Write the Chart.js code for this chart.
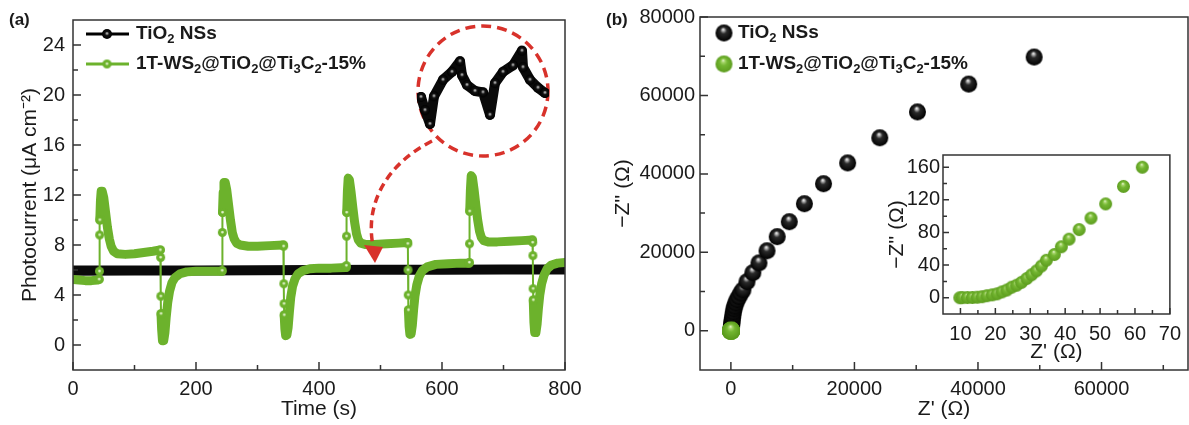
<!DOCTYPE html>
<html>
<head>
<meta charset="utf-8">
<script src="https://cdn.jsdelivr.net/npm/chart.js@4.4.1/dist/chart.umd.min.js"></script>
<style>
  body { margin: 0; background: #fff; }
  #wrap { position: relative; width: 1189px; height: 425px; overflow: hidden; background: #fff; }
  canvas { position: absolute; }
</style>
</head>
<body>
<div id="wrap">
  <canvas id="chartA" width="600" height="425" style="left:0;top:0"></canvas>
  <canvas id="insetA" width="132" height="132" style="left:417px;top:25px"></canvas>
  <canvas id="chartB" width="589" height="425" style="left:600px;top:0"></canvas>
  <canvas id="insetB" width="309" height="225" style="left:880px;top:140px"></canvas>
</div>
<script>
// (a) Photocurrent - [tempo (s), corrente (µA cm-2)]
const tio2Current = [[0, 5.95], [100, 5.96], [200, 5.97], [300, 5.98], [400, 6.0], [500, 6.02], [600, 6.03], [700, 6.04], [800, 6.05]];
const compositeCurrent = [
  [0, 5.25], [10, 5.2], [20, 5.15], [30, 5.15], [40, 5.2], [42.5, 5.25],
  [43, 5.9], [43.3, 8.8], [43.6, 10.0], [44.7, 11.6], [45.8, 12.3], [47.5, 12.3], [50, 11.8], [53, 10.6], [56, 9.4], [59, 8.5], [62, 7.9], [66, 7.5], [72, 7.3], [85, 7.25], [100, 7.3], [115, 7.4], [130, 7.5], [142, 7.6],
  [142.5, 7.0], [142.8, 3.9], [143.1, 2.5], [144.2, 1.2], [145.5, 0.35], [147.5, 0.35], [149.5, 1.0], [151.5, 2.2], [154, 3.4], [157, 4.3], [161, 5.0], [166, 5.4], [174, 5.7], [185, 5.85], [200, 5.9], [220, 5.9], [242, 5.9],
  [242.5, 5.95], [242.8, 9.0], [243.1, 10.6], [244.2, 12.2], [245.5, 13.0], [247.5, 13.0], [250, 12.4], [253, 11.2], [256, 10.0], [259, 9.0], [262, 8.5], [266, 8.15], [272, 8.0], [285, 7.9], [300, 7.9], [320, 7.95], [342, 8.0],
  [342.5, 7.9], [342.8, 4.9], [343.1, 3.3], [343.4, 2.4], [344.5, 1.3], [345.8, 0.75], [347.8, 0.8], [349.8, 1.4], [351.8, 2.6], [354, 3.8], [357, 4.7], [361, 5.3], [366, 5.7], [374, 5.95], [385, 6.1], [400, 6.15], [420, 6.15], [444, 6.2],
  [444.5, 6.35], [444.8, 8.7], [445.1, 10.6], [446.2, 12.3], [447.5, 13.35], [449.5, 13.2], [452, 12.3], [455, 11.0], [458, 9.8], [461, 8.9], [464, 8.4], [468, 8.15], [475, 8.05], [490, 8.05], [510, 8.1], [530, 8.15], [544, 8.2],
  [544.5, 8.1], [544.8, 6.0], [545.1, 4.0], [545.4, 2.8], [546.5, 1.5], [547.8, 0.85], [549.8, 0.9], [551.8, 1.6], [553.8, 2.8], [556, 3.9], [559, 4.8], [563, 5.5], [568, 5.95], [576, 6.25], [590, 6.45], [610, 6.5], [630, 6.55], [644, 6.55],
  [644.5, 6.6], [644.8, 8.1], [645.1, 10.7], [646.2, 12.4], [647.5, 13.55], [649.5, 13.4], [652, 12.5], [655, 11.2], [658, 10.0], [661, 9.1], [664, 8.6], [668, 8.35], [675, 8.25], [690, 8.25], [710, 8.3], [730, 8.35], [747, 8.4],
  [747.5, 8.2], [747.8, 7.15], [748.1, 4.5], [748.4, 3.6], [749.5, 1.8], [750.7, 1.0], [752.7, 1.0], [754.7, 1.7], [756.7, 2.9], [759, 4.0], [762, 4.9], [766, 5.6], [771, 6.1], [778, 6.4], [788, 6.55], [800, 6.6]
];
// zoom do TiO2 (círculo vermelho)
const tio2Zoom = [
  [624, 5.991], [628, 5.971], [633, 5.950], [637, 5.992], [646, 6.017], [655, 6.029], [663, 6.045], [665, 6.024], [670, 6.009],
  [678, 6.000], [686, 5.998], [693, 5.964], [698, 6.012], [706, 6.029], [716, 6.039], [725, 6.061], [726, 6.036], [733, 6.017], [741, 6.005], [748, 5.997]
];
const timeTicks = [0, 200, 400, 600, 800];
const currentTicks = [0, 4, 8, 12, 16, 20, 24];

// (b) Nyquist - [Z' (Ω), -Z'' (Ω)]
const tio2Nyquist = [
  [20, 200], [40, 400], [60, 800], [90, 1200], [120, 1600], [160, 2100], [200, 2600], [260, 3300], [330, 4000], [400, 4800], [500, 5600],
  [620, 6300], [800, 7100], [1000, 7900], [1300, 8700], [1600, 9600], [1950, 10400], [2600, 12500], [3550, 14800], [4550, 17300], [5850, 20400],
  [7500, 24000], [9450, 27800], [11900, 32400], [15000, 37500], [18900, 42800], [24100, 49200], [30200, 55800], [38500, 62900], [49100, 69800]
];
const compositeNyquist = [
  [9.8, 0], [10.6, 0.1], [12.0, 0.2], [13.4, 0.3], [14.8, 0.6], [16.2, 1.2], [17.6, 2.4], [19.1, 3.5], [20.5, 4.7], [21.9, 7.1], [23.3, 9.4],
  [24.7, 12.9], [26.1, 15.3], [27.5, 18.8], [29.0, 23.5], [30.4, 28.2], [31.8, 32.9], [33.2, 38.8], [34.6, 45.9], [36.9, 52.9], [38.9, 62.4],
  [41.1, 71.8], [44.0, 83.5], [47.4, 97.6], [51.6, 115], [56.7, 136.5], [62.1, 160]
];
const zReTicks = [0, 20000, 40000, 60000];
const zImTicks = [0, 20000, 40000, 60000, 80000];
const insetReTicks = [10, 20, 30, 40, 50, 60, 70];
const insetImTicks = [0, 40, 80, 120, 160];

const tio2Label = [['TiO', 'n'], ['2', 'sub'], [' NSs', 'n']];
const compositeLabel = [['1T-WS', 'n'], ['2', 'sub'], ['@TiO', 'n'], ['2', 'sub'], ['@Ti', 'n'], ['3', 'sub'], ['C', 'n'], ['2', 'sub'], ['-15%', 'n']];

const FONT = '"Liberation Sans", Arial, Helvetica, sans-serif';
const INK = '#1a1a1a';
const GREEN = '#6cb22c';
const RED = '#d8322b';

const toXY = arr => arr.map(([x, y]) => ({ x, y }));
const fixTicks = vals => axis => { axis.ticks = vals.map(v => ({ value: v })); };

// bolinhas com brilho (esferas)
function makeBall(r, stops, hx, hy) {
  const c = document.createElement('canvas');
  const s = Math.ceil(r * 2) + 2;
  c.width = c.height = s;
  const g = c.getContext('2d');
  const cx = s / 2, cy = s / 2;
  const grad = g.createRadialGradient(cx + hx * r, cy + hy * r, 0, cx, cy, r);
  stops.forEach(([o, col]) => grad.addColorStop(o, col));
  g.fillStyle = grad;
  g.beginPath();
  g.arc(cx, cy, r, 0, Math.PI * 2);
  g.fill();
  return c;
}
const blackBall = makeBall(8.5, [[0, '#ffffff'], [0.14, '#b8b8b8'], [0.38, '#2a2a2a'], [1, '#000']], -0.1, -0.45);
const greenBall = makeBall(8.5, [[0, '#f4fbe8'], [0.18, '#a8d66c'], [0.45, '#74b732'], [1, '#5c9c1e']], -0.1, -0.45);
const greenBallSmall = makeBall(6.5, [[0, '#f4fbe8'], [0.18, '#a8d66c'], [0.45, '#74b732'], [1, '#5c9c1e']], -0.1, -0.45);
const greenDot = makeBall(4.5, [[0, '#f4fbee'], [0.22, '#c6e4a4'], [0.4, GREEN], [1, GREEN]], 0, -0.1);
const blackDot = makeBall(5, [[0, '#cfcfcf'], [0.2, '#777'], [0.42, '#111'], [1, '#000']], 0, -0.15);

function drawRich(ctx, x, y, parts, size) {
  ctx.textBaseline = 'middle';
  ctx.textAlign = 'left';
  parts.forEach(([t, k]) => {
    const fs = k === 'n' ? size : Math.round(size * 0.68);
    ctx.font = `bold ${fs}px ${FONT}`;
    ctx.fillText(t, x, y + (k === 'sub' ? size * 0.28 : 0));
    x += ctx.measureText(t).width;
  });
}

// moldura + ticks para dentro
const frameTicks = {
  id: 'frameTicks',
  afterDraw(chart, args, o) {
    const { ctx, chartArea: a, scales: { x, y } } = chart;
    ctx.save();
    ctx.strokeStyle = '#333';
    ctx.lineWidth = 1.5;
    ctx.strokeRect(a.left, a.top, a.right - a.left, a.bottom - a.top);
    ctx.beginPath();
    x.ticks.forEach(t => { const p = x.getPixelForValue(t.value); ctx.moveTo(p, a.bottom); ctx.lineTo(p, a.bottom - o.major); });
    o.minorX.forEach(v => { const p = x.getPixelForValue(v); ctx.moveTo(p, a.bottom); ctx.lineTo(p, a.bottom - o.minor); });
    y.ticks.forEach(t => { const p = y.getPixelForValue(t.value); ctx.moveTo(a.left, p); ctx.lineTo(a.left + o.major, p); });
    o.minorY.forEach(v => { const p = y.getPixelForValue(v); ctx.moveTo(a.left, p); ctx.lineTo(a.left + o.minor, p); });
    ctx.stroke();
    ctx.restore();
  }
};

function axisX(min, max, ticks, title, h, tickPad, titlePad) {
  return {
    type: 'linear', min, max,
    afterBuildTicks: fixTicks(ticks),
    afterFit: s => { s.height = h; },
    grid: { display: false, drawTicks: false }, border: { display: false },
    ticks: { padding: tickPad, autoSkip: false, maxRotation: 0, color: INK, font: { family: FONT, size: 20 }, callback: v => String(v) },
    title: { display: true, text: title, color: INK, font: { family: FONT, size: 21, lineHeight: 1.2 }, padding: { top: 0, bottom: titlePad } }
  };
}
function axisY(min, max, ticks, title, w, tickPad, titlePad) {
  return {
    type: 'linear', min, max,
    afterBuildTicks: fixTicks(ticks),
    afterFit: s => { s.width = w; },
    grid: { display: false, drawTicks: false }, border: { display: false },
    ticks: { padding: tickPad, autoSkip: false, color: INK, font: { family: FONT, size: 20 }, callback: v => String(v) },
    title: { display: true, text: title, color: INK, font: { family: FONT, size: 21, lineHeight: 1.2 }, padding: { top: titlePad, bottom: 0 } }
  };
}
const noUi = { legend: { display: false }, tooltip: { enabled: false } };

// pontos das transições (luz liga/desliga) aparecem como marcadores
const isJump = i => {
  const d = compositeCurrent;
  const prev = i > 0 && d[i][0] - d[i - 1][0] < 1;
  const next = i < d.length - 1 && d[i + 1][0] - d[i][0] < 1;
  return prev || next;
};

// Gráfico (a)
const decorA = {
  id: 'decorA',
  afterDatasetsDraw(chart) {
    const ctx = chart.ctx;
    ctx.save();
    ctx.strokeStyle = RED;
    ctx.fillStyle = RED;
    ctx.lineWidth = 3.5;
    ctx.setLineDash([10, 6]);
    ctx.beginPath();
    ctx.arc(483, 91, 65, 0, Math.PI * 2);
    ctx.stroke();
    ctx.setLineDash([8, 5]);
    ctx.beginPath();
    ctx.moveTo(432, 141);
    ctx.bezierCurveTo(385, 165, 365, 205, 373, 246);
    ctx.stroke();
    ctx.setLineDash([]);
    ctx.beginPath();
    ctx.moveTo(364, 245);
    ctx.lineTo(383, 247);
    ctx.lineTo(375, 263);
    ctx.closePath();
    ctx.fill();
    ctx.restore();
  },
  afterDraw(chart) {
    const ctx = chart.ctx;
    ctx.save();
    ctx.fillStyle = INK;
    ctx.font = `bold 17px ${FONT}`;
    ctx.textBaseline = 'middle';
    ctx.fillText('(a)', 9, 20);
    [[34, '#000', blackDot, tio2Label], [64, GREEN, greenDot, compositeLabel]].forEach(([yy, col, img, lab]) => {
      ctx.strokeStyle = col;
      ctx.lineWidth = 3;
      ctx.beginPath();
      ctx.moveTo(86, yy);
      ctx.lineTo(129, yy);
      ctx.stroke();
      ctx.drawImage(img, 107 - img.width / 2, yy - img.height / 2);
      ctx.fillStyle = INK;
      drawRich(ctx, 136, yy, lab, 19);
    });
    ctx.restore();
  }
};

new Chart(document.getElementById('chartA'), {
  type: 'scatter',
  data: {
    datasets: [{
      data: toXY(compositeCurrent),
      showLine: true,
      borderColor: GREEN,
      borderCapStyle: 'round',
      borderJoinStyle: 'round',
      segment: { borderWidth: c => (c.p1.parsed.x - c.p0.parsed.x < 1 ? 2 : 9) },
      pointStyle: greenDot,
      pointRadius: c => (isJump(c.dataIndex) ? 4.5 : 0)
    }, {
      data: toXY(tio2Current),
      showLine: true,
      borderColor: '#0a0a0a',
      borderWidth: 10,
      pointRadius: 0
    }]
  },
  options: {
    responsive: false, animation: false, events: [],
    layout: { autoPadding: false, padding: { left: 0, top: 17, right: 35, bottom: 0 } },
    scales: {
      x: axisX(0, 800, timeTicks, 'Time (s)', 55, 7, 3),
      y: axisY(-2, 26, currentTicks, 'Photocurrent (μA cm⁻²)', 73, 8, 18)
    },
    plugins: { ...noUi, frameTicks: { major: 8, minor: 5, minorX: [100, 300, 500, 700], minorY: [2, 6, 10, 14, 18, 22] } }
  },
  plugins: [frameTicks, decorA]
});

// zoom no círculo
new Chart(document.getElementById('insetA'), {
  type: 'scatter',
  data: {
    datasets: [{
      data: toXY(tio2Zoom),
      showLine: true,
      borderColor: '#0a0a0a',
      borderWidth: 10,
      borderJoinStyle: 'round',
      borderCapStyle: 'round',
      pointStyle: blackDot,
      pointRadius: 5
    }]
  },
  options: {
    responsive: false, animation: false, events: [],
    layout: { autoPadding: false, padding: 0 },
    scales: {
      x: { type: 'linear', min: 620, max: 752, display: false },
      y: { type: 'linear', min: 5.90, max: 6.10, display: false }
    },
    plugins: noUi
  }
});

// Gráfico (b)
const decorB = {
  id: 'decorB',
  afterDraw(chart) {
    const ctx = chart.ctx;
    ctx.save();
    ctx.fillStyle = INK;
    ctx.font = `bold 17px ${FONT}`;
    ctx.textBaseline = 'middle';
    ctx.fillText('(b)', 6, 20);
    [[33, blackBall, tio2Label], [64, greenBall, compositeLabel]].forEach(([yy, img, lab]) => {
      ctx.drawImage(img, 124 - img.width / 2, yy - img.height / 2);
      ctx.fillStyle = INK;
      drawRich(ctx, 138, yy, lab, 19);
    });
    ctx.restore();
  }
};

new Chart(document.getElementById('chartB'), {
  type: 'scatter',
  data: {
    datasets: [
      { data: toXY(compositeNyquist), pointStyle: greenBall, pointRadius: 8 },
      { data: toXY(tio2Nyquist), pointStyle: blackBall, pointRadius: 8 }
    ]
  },
  options: {
    responsive: false, animation: false, events: [],
    layout: { autoPadding: false, padding: { left: 0, top: 17, right: 1, bottom: 0 } },
    scales: {
      x: axisX(-5000, 74000, zReTicks, "Z' (Ω)", 55, 7, 3),
      y: axisY(-10000, 80000, zImTicks, "−Z'' (Ω)", 100, 5, 10.5)
    },
    plugins: { ...noUi, frameTicks: { major: 8, minor: 5, minorX: [10000, 30000, 50000, 70000], minorY: [10000, 30000, 50000, 70000] } }
  },
  plugins: [frameTicks, decorB]
});

// detalhe (inset) do 1T-WS2@TiO2@Ti3C2
new Chart(document.getElementById('insetB'), {
  type: 'scatter',
  data: {
    datasets: [{ data: toXY(compositeNyquist), pointStyle: greenBallSmall, pointRadius: 6.5 }]
  },
  options: {
    responsive: false, animation: false, events: [],
    layout: { autoPadding: false, padding: { left: 0, top: 9, right: 15, bottom: 0 } },
    scales: {
      x: axisX(5, 70, insetReTicks, "Z' (Ω)", 51, 8, 0.6),
      y: axisY(-20, 175, insetImTicks, "−Z'' (Ω)", 63, 3, 4.6)
    },
    plugins: { ...noUi, frameTicks: { major: 6, minor: 4, minorX: [15, 25, 35, 45, 55, 65], minorY: [20, 60, 100, 140] } }
  },
  plugins: [frameTicks]
});
</script>
</body>
</html>
